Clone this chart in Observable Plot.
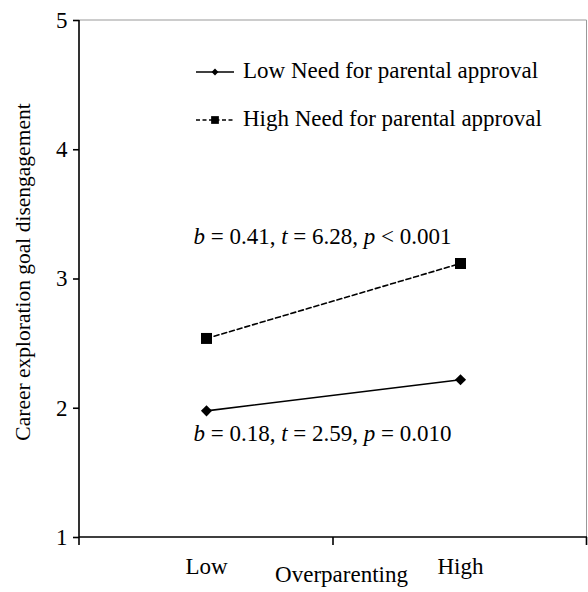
<!DOCTYPE html>
<html><head><meta charset="utf-8">
<script src="https://cdn.jsdelivr.net/npm/d3@7"></script>
<script src="https://cdn.jsdelivr.net/npm/@observablehq/plot@0.6"></script>
<style>body{margin:0;background:#fff}#chart{width:588px;height:592px}</style>
</head><body><div id="chart"></div>
<script>
const levels = ["Low", "High"];
const seriesNames = ["Low Need for parental approval", "High Need for parental approval"];
const lowNeed = [1.98, 2.22];
const highNeed = [2.54, 3.12];
const yTicks = [1, 2, 3, 4, 5];
const xTitle = "Overparenting";
const yTitle = "Career exploration goal disengagement";
const annotations = ["b = 0.41, t = 6.28, p < 0.001", "b = 0.18, t = 2.59, p = 0.010"];
const annotationY = [3.33, 1.80];

const FONT = "'Liberation Serif', 'Times New Roman', serif";
const FS = 23;
const rows = seriesNames.flatMap((s, i) =>
  levels.map((l, j) => ({series: s, level: l, value: [lowNeed, highNeed][i][j]})));
const lowRows = rows.filter(d => d.series === seriesNames[0]);
const highRows = rows.filter(d => d.series === seriesNames[1]);
const annRows = annotations.map((t, i) => ({text: t, y: annotationY[i]}));

function axisLines(index, scales, values, dims) {
  const {width, height, marginLeft, marginRight, marginTop, marginBottom} = dims;
  const L = marginLeft, R = width - marginRight, T = marginTop, B = height - marginBottom;
  const g = d3.create("svg:g");
  g.append("path").attr("d", `M${L},${T}H${R - 0.5}V${B}`).attr("fill", "none")
    .attr("stroke", "#999").attr("stroke-width", 1);
  g.append("path").attr("d", `M${L},${T}V${B}H${R}`).attr("fill", "none")
    .attr("stroke", "#000").attr("stroke-width", 1.6);
  const xs = [scales.x(levels[0]), scales.x(levels[1]), R - 0.5];
  for (const x of xs) g.append("line").attr("x1", x).attr("x2", x).attr("y1", B).attr("y2", B + 8)
    .attr("stroke", "#000").attr("stroke-width", 1.6);
  return g.node();
}

const chart = Plot.plot({
  width: 588, height: 592,
  marginLeft: 79, marginRight: 1, marginTop: 20, marginBottom: 55,
  style: {fontFamily: FONT, fontSize: FS + "px", color: "#000", background: "#fff"},
  x: {type: "band", domain: levels, padding: 0},
  y: {domain: [1, 5]},
  marks: [
    Plot.axisY({ticks: yTicks, tickFormat: d3.format("d"), tickSize: 6, tickPadding: 6, fontSize: FS, strokeWidth: 1.6, label: null}),
    Plot.axisX({tickSize: 0, tickPadding: 20, fontSize: FS, label: null}),
    axisLines,
    Plot.line(lowRows, {x: "level", y: "value", stroke: "#000", strokeWidth: 1.6}),
    Plot.line(highRows, {x: "level", y: "value", stroke: "#000", strokeWidth: 1.6, strokeDasharray: "5,3"}),
    Plot.dot(lowRows, {x: "level", y: "value", symbol: "diamond2", r: 5, fill: "#000"}),
    Plot.dot(highRows, {x: "level", y: "value", symbol: "square", r: 6.2, fill: "#000"}),
    Plot.text(annRows, {y: "y", text: "text", frameAnchor: "middle", dx: -11, fontSize: FS, fill: "#000"}),
    Plot.text([xTitle], {text: d => d, frameAnchor: "bottom", dy: 44, dx: 8, fontSize: FS, fill: "#000"}),
    Plot.text([yTitle], {text: d => d, frameAnchor: "left", textAnchor: "middle", rotate: -90, dx: -56, dy: -7, fontSize: 21.5, fill: "#000"})
  ]
});
document.getElementById("chart").appendChild(chart);

// italic statistic symbols
d3.select(chart).selectAll("text").each(function() {
  const t = this.textContent;
  if (annotations.includes(t)) {
    const el = d3.select(this); el.text(null);
    t.split(/([btp])(?= [=<])/).forEach(part => {
      if (!part) return;
      const ts = el.append("tspan").text(part);
      if (/^[btp]$/.test(part)) ts.attr("font-style", "italic");
    });
  }
});

// legend inside plot area
const svg = d3.select(chart);
const lg = svg.append("g").attr("font-family", FONT).attr("font-size", FS).attr("text-anchor", "start");
const legendRows = [
  {name: seriesNames[0], y: 72, dash: null, symbol: d3.symbolDiamond2, size: 30},
  {name: seriesNames[1], y: 120, dash: "4,2.5", symbol: d3.symbolSquare, size: 60}
];
legendRows.forEach(r => {
  lg.append("line").attr("x1", 196).attr("x2", 234).attr("y1", r.y).attr("y2", r.y)
    .attr("stroke", "#000").attr("stroke-width", 1.6).attr("stroke-dasharray", r.dash);
  lg.append("path").attr("d", d3.symbol(r.symbol, r.size)()).attr("transform", `translate(215,${r.y})`).attr("fill", "#000");
  lg.append("text").attr("x", 243).attr("y", r.y).attr("dy", "0.26em").attr("fill", "#000").text(r.name);
});
</script>
</body></html>
